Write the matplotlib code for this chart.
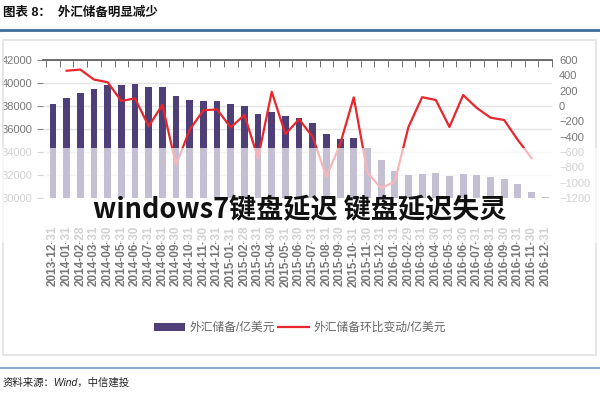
import numpy as np
import matplotlib.pyplot as plt
from matplotlib.patches import Rectangle, Patch
from matplotlib.lines import Line2D

plt.rcParams['font.family'] = ['Liberation Sans', 'Noto Sans CJK SC', 'DejaVu Sans']

# --- data ---
dates = ['2013-12-31', '2014-01-31', '2014-02-28', '2014-03-31', '2014-04-30', '2014-05-31',
         '2014-06-30', '2014-07-31', '2014-08-31', '2014-09-30', '2014-10-31', '2014-11-30',
         '2014-12-31', '2015-01-31', '2015-02-28', '2015-03-31', '2015-04-30', '2015-05-31',
         '2015-06-30', '2015-07-31', '2015-08-31', '2015-09-30', '2015-10-31', '2015-11-30',
         '2015-12-31', '2016-01-31', '2016-02-29', '2016-03-31', '2016-04-30', '2016-05-31',
         '2016-06-30', '2016-07-31', '2016-08-31', '2016-09-30', '2016-10-31', '2016-11-30',
         '2016-12-31']
reserves = [38213, 38666, 39137, 39481, 39788, 39839, 39932, 39660, 39688, 38877, 38529, 38473,
            38430, 38134, 38015, 37300, 37481, 37111, 36938, 36513, 35574, 35141, 35255, 34383,
            33304, 32309, 32023, 32126, 32197, 31917, 32052, 32011, 31852, 31664, 31207, 30516,
            30105]
change = [np.nan, 460, 475, 345, 310, 65, 100, -265, 15, -770, -310, -55, -45, -280, -117, -680,
          185, -365, -173, -405, -925, -500, 113, -872, -1070, -987, -274, 115, 78, -274, 143,
          -26, -152, -183, -443, -678, np.nan]

bar_color = '#4f3f78'
line_color = '#e8262b'
label_gray = '#777777'

fig = plt.figure(figsize=(6, 4), dpi=100)
fig.patch.set_facecolor('white')

# --- header / footer decorations ---
fig.text(0.005, 0.968, '图表 8：  外汇储备明显减少', fontsize=9, fontweight='bold',
         color='#111111', va='center', ha='left')
fig.add_artist(Line2D([0, 1], [1 - 30 / 400] * 2, color='#3e6e9e', lw=2))
fig.add_artist(Rectangle((3 / 600, 1 - 355 / 400), 593 / 600, 315 / 400, fill=False,
                         edgecolor='#e2e2e2', lw=1.2))
fig.add_artist(Line2D([0, 1], [1 - 368 / 400] * 2, color='#8aaacb', lw=1.5))
fig.text(0.005, 1 - 383 / 400, '资料来源：Wind，中信建投', fontsize=7.5, style='italic',
         color='#222222', va='center', ha='left')

# --- main chart ---
ax = fig.add_axes([43 / 600, 1 - 198 / 400, 509 / 600, 138 / 400])
x = np.arange(len(dates))
ax.bar(x, reserves, width=0.5, color=bar_color, zorder=2)
ax.set_ylim(30000, 42000)
ax.set_yticks(np.arange(30000, 42001, 2000))
ax.set_xlim(-0.73, 36.4)
ax.yaxis.grid(True, color='#e4e4e4', lw=1, zorder=0)
ax.set_axisbelow(True)
for s in ['left', 'right', 'bottom']:
    ax.spines[s].set_visible(False)
ax.spines['top'].set_color('#555555')
ax.spines['top'].set_linewidth(1.2)
ax.set_xticks(x)
ax.set_xticklabels(dates, rotation=90, fontsize=8.5, color=label_gray, fontweight='bold')
ax.set_xticks(np.arange(-0.5, 36.6, 1), minor=True)
ax.tick_params(axis='x', which='major', length=0, pad=20)
ax.tick_params(axis='x', which='minor', top=True, bottom=False, direction='in', length=5,
               color='#555555')
ax.tick_params(axis='y', labelsize=8, labelcolor=label_gray, length=4, color='#888888')

ax2 = ax.twinx()
ax2.plot(x, change, color=line_color, lw=1.6, zorder=3)
ax2.set_ylim(-1200, 600)
ax2.set_yticks(np.arange(-1200, 601, 200))
for s in ax2.spines.values():
    s.set_visible(False)
ax2.tick_params(axis='y', labelsize=8, labelcolor=label_gray, length=0, pad=5)

# --- legend ---
handles = [Patch(facecolor=bar_color, edgecolor='none'),
           Line2D([0], [0], color=line_color, lw=1.6)]
fig.legend(handles, ['外汇储备/亿美元', '外汇储备环比变动/亿美元'], loc='center',
           bbox_to_anchor=(0.5, 1 - 328 / 400), ncol=2, frameon=False, fontsize=8.5,
           labelcolor='#666666', handlelength=2.6, handleheight=0.7, columnspacing=0.3,
           handletextpad=0.4)

# --- washed-out band over the lower half, then the overlaid caption ---
fig.add_artist(Rectangle((0, 1 - 243 / 400), 1, 95 / 400, facecolor='white', alpha=0.67,
                         edgecolor='none', zorder=10))
fig.text(0.5, 1 - 210 / 400, 'windows7键盘延迟 键盘延迟失灵', fontsize=19.5, fontweight='bold',
         color='#111111', ha='center', va='center', zorder=11,
         family=['Noto Sans CJK SC', 'DejaVu Sans'])

fig.savefig('out.png', dpi=100)
